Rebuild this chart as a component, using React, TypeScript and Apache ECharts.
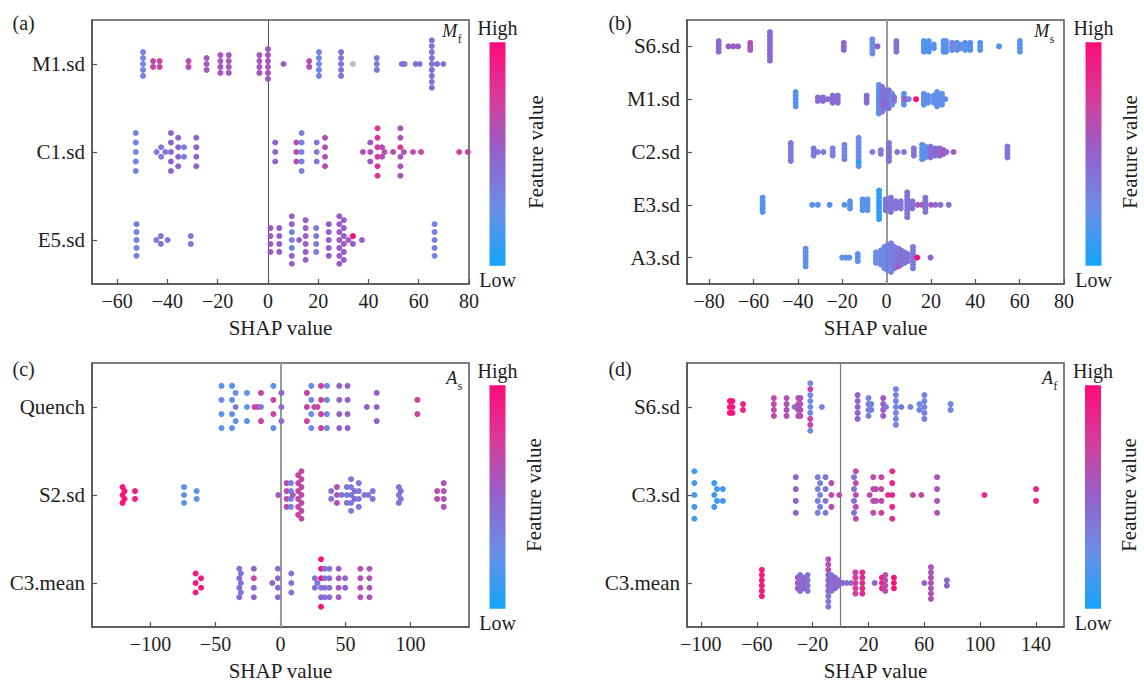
import React, { useEffect, useRef } from "react";
import * as echarts from "echarts";

// Each group: [SHAP value, feature value (0 low .. 1 high, null = missing), number of samples]
// Consecutive groups sharing a SHAP value stack into one column, listed top to bottom.
type G = [number, number | null, number];

// ---------- (a) M_f ----------
const A_FEATURES = ["M1.sd", "C1.sd", "E5.sd"];
const A_XTICKS = [-60, -40, -20, 0, 20, 40, 60, 80];
const A_M1: G[] = [
  [-49.7, 0.3, 5], [-45.7, 0.68, 2], [-43.1, 0.68, 2], [-31.6, 0.66, 2], [-24.4, 0.55, 3],
  [-18.9, 0.56, 4], [-15.6, 0.56, 4], [-3.4, 0.56, 4], [0, 0.57, 6], [6.2, 0.56, 1],
  [16.4, 0.6, 2], [20.3, 0.3, 5], [29.1, 0.4, 5], [33.8, null, 1], [43.3, 0.36, 3],
  [53.3, 0.42, 1], [54.4, 0.42, 1], [58.8, 0.4, 1], [60.4, 0.4, 1], [65.2, 0.42, 9],
  [67.3, 0.42, 1], [69.8, 0.42, 1],
];
const A_C1: G[] = [
  [-52.6, 0.3, 5], [-44.3, 0.36, 1], [-42.5, 0.36, 2], [-40.8, 0.36, 1], [-38.6, 0.5, 5],
  [-35.7, 0.5, 4], [-33.4, 0.34, 2], [-28.5, 0.5, 4], [2.9, 0.5, 3], [11.3, 0.62, 3],
  [13.4, 0.32, 5], [19.4, 0.38, 3], [22.7, 0.64, 4], [37.8, 0.6, 1], [40.7, 0.55, 3],
  [43.6, 0.78, 6], [45.4, 0.6, 2], [46.4, 0.62, 1], [49.8, 0.64, 1],
  [52.7, 0.58, 2], [52.7, 0.75, 1], [52.7, 0.58, 3],
  [54.1, 0.6, 1], [57.7, 0.66, 1], [60.9, 0.66, 1], [76.1, 0.7, 1], [79.5, 0.7, 1],
];
const A_E5: G[] = [
  [-52.3, 0.3, 5], [-44.4, 0.38, 1], [-42.6, 0.38, 2], [-39.9, 0.38, 1], [-30.7, 0.38, 2],
  [1, 0.52, 4], [4.5, 0.52, 4], [9.5, 0.52, 2], [9.5, 0.32, 3], [9.5, 0.52, 2],
  [12.4, 0.52, 1], [15, 0.52, 6], [19.2, 0.35, 4], [24.2, 0.52, 5], [28.4, 0.54, 7],
  [30.2, 0.54, 6], [32, 0.54, 1], [33.8, 1.0, 1], [33.8, 0.54, 1], [37.4, 0.54, 1],
  [66.3, 0.3, 5],
];

// ---------- (b) M_s ----------
const B_FEATURES = ["S6.sd", "M1.sd", "C2.sd", "E3.sd", "A3.sd"];
const B_XTICKS = [-80, -60, -40, -20, 0, 20, 40, 60, 80];
const B_S6: G[] = [
  [-75.7, 0.45, 4], [-71.3, 0.52, 1], [-69.2, 0.52, 1], [-67, 0.52, 1], [-61.5, 0.6, 3],
  [-52.6, 0.45, 9], [-19.3, 0.45, 3], [-6.4, 0.25, 5], [-4.1, 0.48, 1], [4.4, 0.42, 4],
  [16.8, 0.18, 4], [19, 0.18, 4], [21.3, 0.2, 2], [25.7, 0.18, 4], [26.8, 0.2, 4],
  [29.5, 0.3, 3], [31.7, 0.25, 3], [33.2, 0.22, 2], [35.4, 0.2, 3], [37.7, 0.2, 3],
  [42.2, 0.2, 3], [50.7, 0.2, 1], [60.1, 0.2, 4],
];
const B_M1: G[] = [
  [-41, 0.18, 5], [-31, 0.45, 2], [-28.7, 0.45, 2], [-26.5, 0.45, 1], [-24.3, 0.45, 3],
  [-22, 0.45, 3], [-9, 0.42, 3], [-3.5, 0.2, 9], [-2, 0.4, 8],
  [-0.5, 0.42, 4], [-0.5, 0.62, 1], [-0.5, 0.42, 1],
  [1, 0.4, 6], [2.5, 0.25, 4], [3.4, 0.42, 2], [7.8, 0.22, 4], [8.6, 0.55, 1], [10, 0.3, 1],
  [13.3, 1.0, 1], [16.8, 0.22, 4], [18.7, 0.22, 3], [21.3, 0.22, 3], [22.8, 0.22, 5],
  [25, 0.22, 4], [26.5, 0.22, 1],
];
const B_C2: G[] = [
  [-43.2, 0.35, 6], [-32.9, 0.35, 3], [-31, 0.35, 1], [-28.5, 0.35, 1], [-24.3, 0.3, 3],
  [-19, 0.3, 5], [-12.6, 0.25, 7], [-12.6, 0.02, 1], [-12.6, 0.25, 1], [-6.4, 0.35, 1],
  [-2.6, 0.35, 2], [1.1, 0.4, 6], [4.8, 0.38, 1], [7.8, 0.4, 1], [12.3, 0.4, 3],
  [16, 0.2, 5], [17.5, 0.22, 4], [19.8, 0.42, 4], [22, 0.45, 3], [24, 0.45, 3],
  [25.6, 0.6, 2], [27, 0.45, 1], [30.2, 0.55, 1], [54.5, 0.4, 4],
];
const B_E3: G[] = [
  [-55.9, 0.18, 5], [-33.5, 0.2, 1], [-31, 0.2, 1], [-25.7, 0.2, 1], [-19, 0.2, 1],
  [-16.5, 0.2, 3], [-10.8, 0.2, 4], [-8.6, 0.22, 4], [-3.4, 0.08, 9], [-0.4, 0.4, 4],
  [1.9, 0.4, 5], [4.1, 0.4, 3], [6.4, 0.4, 3], [9.3, 0.4, 8], [11.6, 0.42, 3],
  [14, 0.56, 1], [16, 0.56, 1], [17.5, 0.4, 5], [20, 0.55, 1], [22, 0.45, 1],
  [24.3, 0.42, 1], [28, 0.42, 1],
];
const B_A3: G[] = [
  [-36.5, 0.22, 6], [-20, 0.22, 1], [-18.3, 0.22, 1], [-16.8, 0.22, 1], [-13, 0.22, 3],
  [-4.8, 0.25, 4], [-2.5, 0.3, 5], [-1, 0.25, 7], [0.5, 0.35, 8], [2, 0.3, 9],
  [3.5, 0.35, 7], [5.3, 0.4, 5], [5.3, 0.62, 1], [6.5, 0.4, 5], [8, 0.38, 4],
  [9.5, 0.42, 3], [11.9, 0.35, 7], [13.8, 1.0, 1], [19.8, 0.5, 1],
];

// ---------- (c) A_s ----------
const C_FEATURES = ["Quench", "S2.sd", "C3.mean"];
const C_XTICKS = [-100, -50, 0, 50, 100];
const C_QUENCH: G[] = [
  [-45.4, 0.22, 4], [-37.3, 0.22, 4], [-34.5, 0.22, 1], [-34.5, 0.38, 1], [-34.5, 0.22, 1],
  [-25.8, 0.22, 3], [-20, 0.7, 1], [-17.5, 0.7, 1], [-15, 0.7, 1], [-15, 0.38, 1], [-15, 0.7, 1],
  [-5.5, 0.22, 1], [-5.5, 0.7, 2], [-5.5, 0.22, 1], [0.7, 0.45, 3], [20.3, 0.7, 3],
  [23.7, 0.28, 4], [26, 0.7, 1], [28.5, 0.7, 1], [31.2, 0.75, 4], [35.7, 0.28, 4],
  [45.2, 0.5, 4], [51.6, 0.5, 4], [66.4, 0.5, 1], [74, 0.5, 3], [105.3, 0.72, 2],
];
const C_S2: G[] = [
  [-121.5, 0.95, 3], [-120, 0.95, 2], [-111.9, 0.9, 2], [-74.2, 0.22, 3], [-64.5, 0.22, 2],
  [-1.7, 0.55, 1], [4.7, 0.65, 4], [8, 0.33, 4], [9.5, 0.55, 1], [13.6, 0.68, 6],
  [16.1, 0.68, 7], [39, 0.38, 2], [43.4, 0.62, 3], [47, 0.4, 1], [51, 0.38, 3],
  [54.3, 0.38, 5], [57, 0.45, 2], [60.2, 0.38, 4], [64.5, 0.4, 1], [67.5, 0.42, 1],
  [70.9, 0.42, 2], [91, 0.38, 3], [92.5, 0.38, 2], [120.5, 0.65, 2], [125.6, 0.6, 4],
];
const C_C3MEAN: G[] = [
  [-65.3, 0.92, 3], [-61.1, 0.92, 2], [-31.7, 0.45, 4], [-30.5, 0.38, 3],
  [-20.5, 0.5, 1], [-20.5, 0.7, 1], [-20.5, 0.5, 2], [-6.3, 0.5, 1], [-2, 0.45, 4],
  [8.3, 0.4, 3], [26.4, 0.4, 2], [28.4, 0.4, 1],
  [31.2, 0.95, 3], [31.2, 0.4, 1], [31.2, 0.5, 1], [31.2, 0.95, 1],
  [34, 0.42, 4], [37.6, 0.45, 4], [44.7, 0.55, 4], [49.7, 0.5, 2], [61.4, 0.62, 4],
  [68.4, 0.6, 4],
];

// ---------- (d) A_f ----------
const D_FEATURES = ["S6.sd", "C3.sd", "C3.mean"];
const D_XTICKS = [-100, -60, -20, 20, 60, 100, 140];
const D_S6: G[] = [
  [-79.3, 0.95, 3], [-77.5, 0.95, 3], [-69.9, 0.9, 2], [-47.8, 0.66, 4], [-38.7, 0.6, 4],
  [-32.9, 0.38, 1], [-30.3, 0.62, 4], [-28.8, 0.62, 4],
  [-21.7, 0.28, 1], [-21.7, 0.68, 1], [-21.7, 0.28, 4], [-21.7, 0.68, 2], [-21.7, 0.28, 1],
  [-13.4, 0.3, 1], [12.2, 0.5, 5], [20, 0.32, 4], [22, 0.32, 2], [30.5, 0.55, 4],
  [32.5, 0.35, 1], [39.6, 0.3, 7], [43.5, 0.35, 1], [50, 0.3, 1], [56.5, 0.3, 2],
  [60, 0.3, 5], [78.8, 0.3, 2],
];
const D_C3SD: G[] = [
  [-104.7, 0.15, 5], [-90.5, 0.12, 3], [-88.5, 0.12, 2], [-84.3, 0.15, 2], [-32.1, 0.5, 4],
  [-16.4, 0.32, 4], [-14.7, 0.34, 3], [-10.8, 0.4, 4], [-6.6, 0.66, 3], [-0.9, 0.66, 1],
  [9.6, 0.42, 4], [10.9, 0.66, 5], [20.8, 0.66, 1], [23.4, 0.66, 4], [25.3, 0.62, 2],
  [29.2, 0.7, 4], [33.9, 0.8, 1], [37, 0.85, 5], [51.8, 0.7, 1], [57.8, 0.7, 1],
  [69.1, 0.6, 4], [103, 0.85, 1], [140, 0.88, 2],
];
const D_C3MEAN: G[] = [
  [-56.4, 0.92, 6], [-30.7, 0.6, 3], [-29, 0.45, 4], [-26, 0.5, 3], [-23.6, 0.4, 4],
  [-8.8, 0.62, 3], [-8.8, 0.5, 4], [-8.8, 0.38, 3], [-6.6, 0.42, 4], [-4, 0.5, 3],
  [-1.5, 0.45, 2], [1.5, 0.5, 1], [4.5, 0.45, 1], [7.6, 0.42, 1], [10.6, 0.75, 5],
  [15.6, 0.85, 5], [24.4, 0.5, 1], [29.6, 0.85, 3], [32, 0.65, 4], [38.2, 0.95, 3],
  [60, 0.5, 1], [64.7, 0.6, 7], [76.1, 0.5, 2],
];

const COLOR_STOPS = ["#14a4f9", "#6a8ee8", "#9262cc", "#d63c9a", "#ff0a78"];
const MISSING_COLOR = "#bdbdbd";
const FONT = "Liberation Serif";
const TXT = "#1e1e1e";

// row layout (y-axis units): half-height of the swarm and max vertical step
const EXTENT = 0.27;
const STEP_MAX = 0.16;

function swarm(rows: G[][]) {
  const out: number[][] = [];
  rows.forEach((groups, r) => {
    const cols: { x: number; fvs: (number | null)[] }[] = [];
    groups.forEach(([x, fv, n]) => {
      let c = cols.length && cols[cols.length - 1].x === x ? cols[cols.length - 1] : null;
      if (!c) {
        c = { x, fvs: [] };
        cols.push(c);
      }
      for (let i = 0; i < n; i++) c.fvs.push(fv);
    });
    const maxHalf = Math.max(...cols.map((c) => (c.fvs.length - 1) / 2));
    const step = maxHalf > 0 ? Math.min(STEP_MAX, EXTENT / maxHalf) : 0;
    cols.forEach((c) => {
      const n = c.fvs.length;
      c.fvs.forEach((fv, i) => {
        out.push([c.x, r + (i - (n - 1) / 2) * step, fv == null ? -1 : fv]);
      });
    });
  });
  return out;
}

const fmtX = (v: number) => (v < 0 ? "\u2212" + Math.abs(v) : String(v));

type Panel = {
  letter: string;
  main: string;
  sub: string;
  features: string[];
  rows: G[][];
  xmin: number;
  xmax: number;
  ticks: number[];
  left: number;
  top: number;
  zeroColor: string;
  zeroWidth: number;
  barX: number;
  featX: number;
  letterX: number;
  mainRight: number;
  mainY: number;
};

const PANELS: Panel[] = [
  {
    letter: "(a)", main: "M", sub: "f", features: A_FEATURES, rows: [A_M1, A_C1, A_E5],
    xmin: -70, xmax: 80, ticks: A_XTICKS, left: 92, top: 20, zeroColor: "#555", zeroWidth: 1,
    barX: 489.5, featX: 535.5, letterX: 12.5, mainRight: 457.2, mainY: 30.5,
  },
  {
    letter: "(b)", main: "M", sub: "s", features: B_FEATURES, rows: [B_S6, B_M1, B_C2, B_E3, B_A3],
    xmin: -90, xmax: 80, ticks: B_XTICKS, left: 687, top: 20, zeroColor: "#999", zeroWidth: 2,
    barX: 1085.5, featX: 1130, letterX: 608.4, mainRight: 1049.2, mainY: 30.5,
  },
  {
    letter: "(c)", main: "A", sub: "s", features: C_FEATURES, rows: [C_QUENCH, C_S2, C_C3MEAN],
    xmin: -145, xmax: 145, ticks: C_XTICKS, left: 92, top: 363, zeroColor: "#999", zeroWidth: 2,
    barX: 489.5, featX: 533.7, letterX: 12.5, mainRight: 457.2, mainY: 378.2,
  },
  {
    letter: "(d)", main: "A", sub: "f", features: D_FEATURES, rows: [D_S6, D_C3SD, D_C3MEAN],
    xmin: -110, xmax: 160, ticks: D_XTICKS, left: 687, top: 363, zeroColor: "#777", zeroWidth: 1.2,
    barX: 1085, featX: 1128.6, letterX: 608.4, mainRight: 1052.9, mainY: 378.2,
  },
];

const GW = 377;
const GH = 264;

function buildOption() {
  const grid: any[] = [];
  const xAxis: any[] = [];
  const yAxis: any[] = [];
  const series: any[] = [];
  const missingSeries: any[] = [];
  const visualMap: any[] = [];
  const graphic: any[] = [];
  const axisColor = "#555";

  PANELS.forEach((p, i) => {
    const n = p.features.length;
    const idx = p.features.map((_, k) => k);
    grid.push({
      left: p.left, top: p.top, width: GW, height: GH, show: true,
      borderColor: axisColor, borderWidth: 1.5, backgroundColor: "transparent",
    });
    xAxis.push({
      gridIndex: i, type: "value", min: p.xmin, max: p.xmax,
      axisLine: { show: true, onZero: false, lineStyle: { color: axisColor, width: 1.5 } },
      axisTick: { show: true, inside: true, length: 5, customValues: p.ticks, lineStyle: { color: axisColor, width: 1.2 } },
      axisLabel: {
        customValues: p.ticks, formatter: fmtX, fontSize: 20, color: TXT, fontFamily: FONT, margin: 7,
        showMinLabel: true, showMaxLabel: true,
      },
      splitLine: { show: false },
      name: "SHAP value", nameLocation: "middle", nameGap: 33,
      nameTextStyle: { fontSize: 21, color: TXT, fontFamily: FONT },
    });
    yAxis.push({
      gridIndex: i, type: "value", inverse: true, min: -0.5, max: n - 0.5,
      axisLine: { show: true, onZero: false, lineStyle: { color: axisColor, width: 1.6 } },
      axisTick: { show: true, inside: true, length: 5, customValues: idx, lineStyle: { color: axisColor, width: 1.2 } },
      axisLabel: {
        customValues: idx, formatter: (v: number) => p.features[Math.round(v)] ?? "",
        fontSize: 21, color: TXT, fontFamily: FONT, margin: 7,
      },
      splitLine: { show: false },
    });
    const pts = swarm(p.rows);
    series.push({
      type: "scatter", xAxisIndex: i, yAxisIndex: i, data: pts.filter((d) => d[2] >= 0),
      symbolSize: 6, itemStyle: { opacity: 1 }, silent: true, z: 3,
      markLine: {
        silent: true, symbol: "none", label: { show: false }, z: 2,
        lineStyle: { color: p.zeroColor, width: p.zeroWidth, type: "solid" },
        data: [{ xAxis: 0 }],
      },
    });
    missingSeries.push({
      type: "scatter", xAxisIndex: i, yAxisIndex: i, data: pts.filter((d) => d[2] < 0),
      symbolSize: 6, itemStyle: { color: MISSING_COLOR, opacity: 1 }, silent: true, z: 3,
    });
    visualMap.push({
      type: "continuous", show: false, seriesIndex: i, dimension: 2, min: 0, max: 1,
      inRange: { color: COLOR_STOPS },
    });

    const dy = p.top - 20;
    graphic.push({
      type: "rect", shape: { x: p.barX, y: 42.3 + dy, width: 16, height: 223.4 },
      style: {
        fill: new echarts.graphic.LinearGradient(0, 1, 0, 0,
          COLOR_STOPS.map((c, k) => ({ offset: k / (COLOR_STOPS.length - 1), color: c }))),
      },
    });
    graphic.push({
      type: "text", x: p.barX + 8, y: 28.2 + dy,
      style: { text: "High", fontSize: 20, fontFamily: FONT, fill: TXT, align: "center", verticalAlign: "middle" },
    });
    graphic.push({
      type: "text", x: p.barX + 8, y: 280 + dy,
      style: { text: "Low", fontSize: 20, fontFamily: FONT, fill: TXT, align: "center", verticalAlign: "middle" },
    });
    graphic.push({
      type: "text", x: p.featX, y: 152 + dy, rotation: Math.PI / 2,
      style: { text: "Feature value", fontSize: 21, fontFamily: FONT, fill: TXT, align: "center", verticalAlign: "middle" },
    });
    graphic.push({
      type: "text", x: p.letterX, y: 23 + dy + (i >= 2 ? 3 : 0),
      style: { text: p.letter, fontSize: 20, fontFamily: FONT, fill: TXT, align: "left", verticalAlign: "middle" },
    });
    graphic.push({
      type: "text", x: p.mainRight, y: p.mainY,
      style: { text: p.main, fontSize: 18, fontStyle: "italic", fontFamily: FONT, fill: TXT, align: "right", verticalAlign: "middle" },
    });
    graphic.push({
      type: "text", x: p.mainRight + 0.5, y: p.mainY + 8.2,
      style: { text: p.sub, fontSize: 12, fontFamily: FONT, fill: TXT, align: "left", verticalAlign: "middle" },
    });
  });

  return {
    animation: false,
    backgroundColor: "#ffffff",
    grid, xAxis, yAxis,
    series: [...series, ...missingSeries],
    visualMap, graphic,
  };
}

export default function App() {
  const ref = useRef<HTMLDivElement>(null);
  useEffect(() => {
    if (!ref.current) return;
    const chart = echarts.init(ref.current, undefined, { renderer: "svg" });
    chart.setOption(buildOption() as any);
    return () => chart.dispose();
  }, []);
  return (
    <div
      ref={ref}
      style={{ position: "fixed", left: 0, top: 0, width: 1144, height: 682, background: "#fff" }}
    />
  );
}
